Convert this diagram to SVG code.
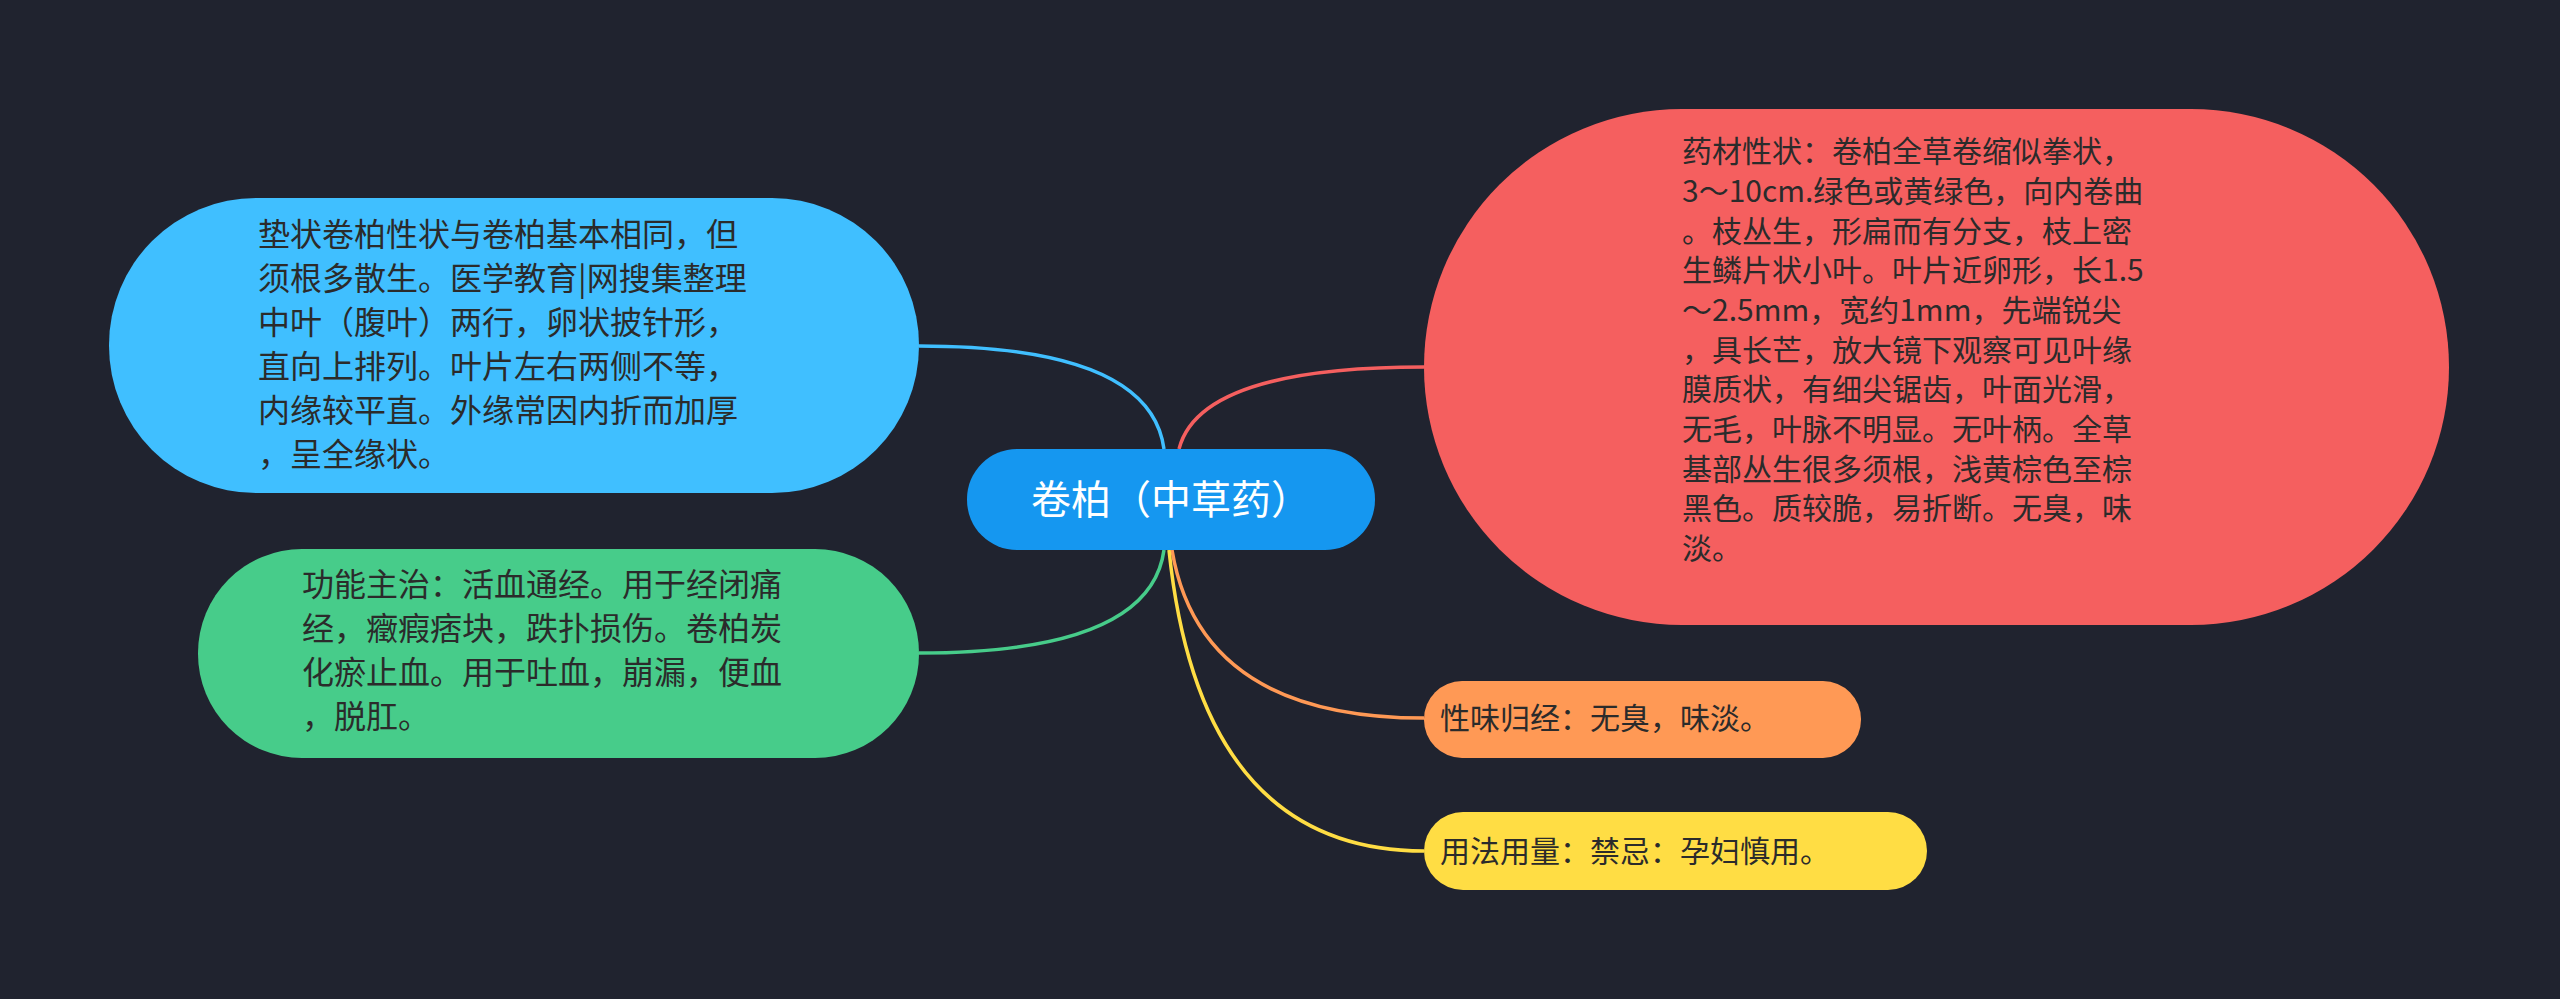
<svg xmlns="http://www.w3.org/2000/svg" width="2560" height="999" viewBox="0 0 2560 999">
<style>
text{font-family:"Noto Sans CJK SC","Noto Sans",sans-serif;fill:#2b2b2b}
.t32{font-size:32px}.t30{font-size:30px}
.c{fill:none;stroke-width:3.5}
</style>
<rect width="2560" height="999" fill="#20232f"/>
<g id="connectors">
<path class="c" stroke="#40bfff" d="M1164 449 Q1150 346 919 346"/>
<path class="c" stroke="#f55f5f" d="M1179 449 Q1200 367 1424 367"/>
<path class="c" stroke="#47cc8a" d="M1164 550 Q1150 653 919 653"/>
<path class="c" stroke="#ff9955" d="M1172 550 Q1200 718 1424 718"/>
<path class="c" stroke="#ffdd44" d="M1169 550 Q1200 851 1424 851"/>
</g>
<g id="center">
<rect x="967" y="449" width="408" height="101" rx="50" fill="#1597f0"/>
<text x="1171" y="514" font-size="40" text-anchor="middle" style="fill:#fff">卷柏（中草药）</text>
</g>
<g id="blue">
<rect x="109" y="198" width="810" height="295" rx="147" fill="#40bfff"/>
<text class="t32"><tspan x="258" y="246">垫状卷柏性状与卷柏基本相同，但</tspan><tspan x="258" y="290">须根多散生。医学教育|网搜集整理</tspan><tspan x="258" y="334">中叶（腹叶）两行，卵状披针形，</tspan><tspan x="258" y="378">直向上排列。叶片左右两侧不等，</tspan><tspan x="258" y="422">内缘较平直。外缘常因内折而加厚</tspan><tspan x="258" y="466">，呈全缘状。</tspan></text>
</g>
<g id="green">
<rect x="198" y="549" width="721" height="209" rx="104" fill="#47cc8a"/>
<text class="t32"><tspan x="302" y="596">功能主治：活血通经。用于经闭痛</tspan><tspan x="302" y="640">经，癥瘕痞块，跌扑损伤。卷柏炭</tspan><tspan x="302" y="684">化瘀止血。用于吐血，崩漏，便血</tspan><tspan x="302" y="728">，脱肛。</tspan></text>
</g>
<g id="red">
<rect x="1424" y="109" width="1025" height="516" rx="258" fill="#f55f5f"/>
<text class="t30"><tspan x="1682" y="162">药材性状：卷柏全草卷缩似拳状，</tspan><tspan x="1682" y="202">3～10cm.绿色或黄绿色，向内卷曲</tspan><tspan x="1682" y="242">。枝丛生，形扁而有分支，枝上密</tspan><tspan x="1682" y="281">生鳞片状小叶。叶片近卵形，长1.5</tspan><tspan x="1682" y="321">～2.5mm，宽约1mm，先端锐尖</tspan><tspan x="1682" y="361">，具长芒，放大镜下观察可见叶缘</tspan><tspan x="1682" y="400">膜质状，有细尖锯齿，叶面光滑，</tspan><tspan x="1682" y="440">无毛，叶脉不明显。无叶柄。全草</tspan><tspan x="1682" y="480">基部丛生很多须根，浅黄棕色至棕</tspan><tspan x="1682" y="519">黑色。质较脆，易折断。无臭，味</tspan><tspan x="1682" y="559">淡。</tspan></text>
</g>
<g id="orange">
<rect x="1424" y="681" width="437" height="77" rx="38" fill="#ff9955"/>
<text class="t30" x="1440" y="729">性味归经：无臭，味淡。</text>
</g>
<g id="yellow">
<rect x="1424" y="812" width="503" height="78" rx="39" fill="#ffdd44"/>
<text class="t30" x="1440" y="862">用法用量：禁忌：孕妇慎用。</text>
</g>
</svg>
